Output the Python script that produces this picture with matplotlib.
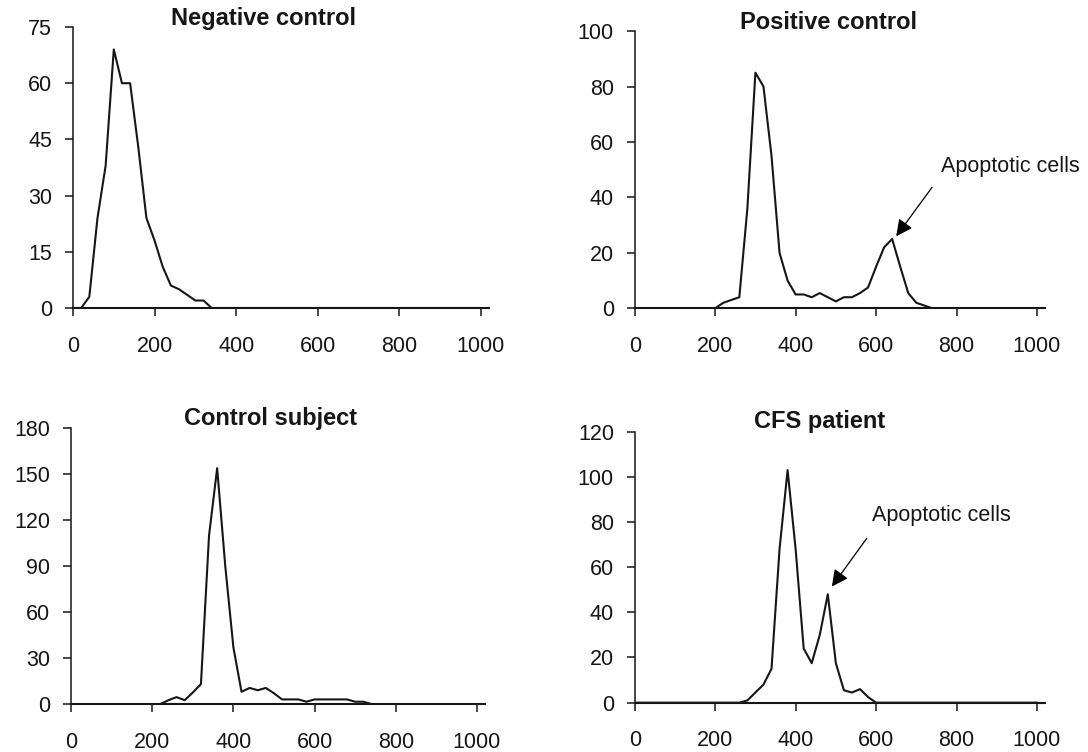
import numpy as np
import matplotlib.pyplot as plt

plt.rcParams['font.family'] = ['Liberation Sans', 'DejaVu Sans']

# channel (DNA content) sampled every 20 units, 0..1000
x = np.arange(0, 1001, 20)

# counts (non-zero part; rest is 0)
neg_vals = [0, 0, 3, 24, 38, 69, 60, 60, 43, 24, 18, 11, 6, 5, 3.5, 2, 2, 0]
pos_vals = [0, 2, 3, 4, 36, 85, 80, 55, 20, 10, 5, 5, 4, 5.5, 4, 2.5, 4, 4,
            5.5, 7.5, 15, 22, 25, 15, 5.5, 2, 1, 0]   # from x=200
ctl_vals = [0, 0, 2.5, 4.5, 2.5, 7.5, 13, 110, 154, 90, 37, 8, 10.5, 9, 10.5,
            7, 3, 3, 3, 1.5, 3, 3, 3, 3, 3, 1.5, 1.5, 0]   # from x=200
cfs_vals = [0, 1, 4.5, 8, 15, 68, 103, 68, 24, 17.5, 30, 48, 17.5, 5.5, 4.5,
            6, 2.5, 0]   # from x=260


def full(vals, start):
    y = np.zeros(len(x))
    i0 = start // 20
    y[i0:i0 + len(vals)] = vals
    return y


neg = full(neg_vals, 0)
pos = full(pos_vals, 200)
ctl = full(ctl_vals, 200)
cfs = full(cfs_vals, 260)

titles = ['Negative control', 'Positive control', 'Control subject', 'CFS patient']
ymax = [75, 100, 180, 120]
ystep = [15, 20, 30, 20]

fig = plt.figure(figsize=(10.88, 7.52), dpi=100)
rects = [[0.0671, 0.5904, 0.3824, 0.3737],
         [0.5834, 0.5900, 0.3771, 0.3687],
         [0.0653, 0.0638, 0.3805, 0.3666],
         [0.5834, 0.0656, 0.3771, 0.3604]]
title_pos = [(0.459, 1.032), (0.472, 1.032), (0.483, 1.034), (0.451, 1.039)]
ink = '#161616'

for k, (y, r) in enumerate(zip([neg, pos, ctl, cfs], rects)):
    ax = fig.add_axes(r)
    ax.plot(x, y, color=ink, lw=1.5)
    ax.set_xlim(0, 1020)
    ax.set_ylim(0, ymax[k])
    ax.set_xticks(range(0, 1001, 200))
    ax.set_yticks(np.arange(0, ymax[k] + 1, ystep[k]))
    for s in ['top', 'right']:
        ax.spines[s].set_visible(False)
    ax.spines['left'].set_linewidth(1.1)
    ax.spines['bottom'].set_linewidth(1.5)
    ax.spines['left'].set_color(ink)
    ax.spines['bottom'].set_color(ink)
    ax.tick_params(axis='x', direction='out', length=6, width=1.1,
                   pad=14, labelsize=15.5, colors=ink)
    ax.tick_params(axis='y', direction='out', length=6, width=1.1,
                   pad=9, labelsize=15.5, colors=ink)
    tx, ty = title_pos[k]
    ax.text(tx, ty, titles[k], transform=ax.transAxes, ha='center', va='center',
            fontsize=17, fontweight='bold', color=ink)

    if k == 1:
        ax.annotate('', xy=(650, 26), xytext=(739, 43.6),
                    arrowprops=dict(arrowstyle='-|>,head_length=1.0,head_width=0.5',
                                    color='black', lw=0.9, shrinkA=0, shrinkB=0))
        ax.text(761, 51, 'Apoptotic cells', fontsize=15.5, va='center', ha='left',
                color=ink, clip_on=False)
    if k == 3:
        ax.annotate('', xy=(490, 51.4), xytext=(577, 72.8),
                    arrowprops=dict(arrowstyle='-|>,head_length=1.0,head_width=0.5',
                                    color='black', lw=0.9, shrinkA=0, shrinkB=0))
        ax.text(589, 82.7, 'Apoptotic cells', fontsize=15.5, va='center', ha='left',
                color=ink, clip_on=False)

plt.savefig('out.png', dpi=100)
